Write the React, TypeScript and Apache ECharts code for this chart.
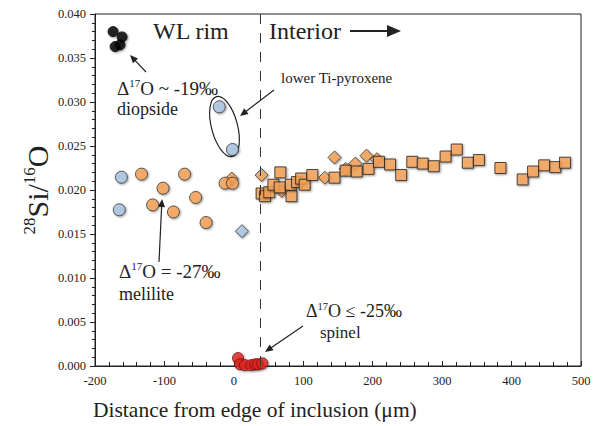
import React, { useEffect, useRef } from "react";
import * as echarts from "echarts";

const xTicks = [-200, -100, 0, 100, 200, 300, 400, 500];
const yTicks = [0, 0.005, 0.01, 0.015, 0.02, 0.025, 0.03, 0.035, 0.04];
const boundaryX = 38;

const diopside = [
  [-174, 0.038], [-161, 0.0374], [-171, 0.0363], [-164, 0.0365],
];
const pyroxene = [
  [-162, 0.02145], [-165, 0.01775], [-21, 0.02945], [-2, 0.0246],
];
const blueDiamond = [[11.6, 0.01532]];
const melilite = [
  [-133, 0.0218], [-102, 0.0202], [-117, 0.0183], [-87, 0.0175], [-71, 0.0218],
  [-55, 0.01915], [-40, 0.0163], [-12.6, 0.02077], [-2, 0.02077],
];
const orangeDiamonds = [
  [-3, 0.0213], [40, 0.0217], [69, 0.0199], [131, 0.0214], [145, 0.0237],
  [161, 0.0224], [175, 0.023], [191, 0.0239], [206, 0.0235],
];
const orangeSquares = [
  [40, 0.0196], [45, 0.0193], [51, 0.01975], [57, 0.0206], [66, 0.0203], [67, 0.022],
  [83, 0.0193], [82, 0.0206], [91, 0.0209], [97, 0.0213], [102, 0.0206], [113, 0.0217],
  [145, 0.0214], [161, 0.0222], [177, 0.0221], [194, 0.0224], [209, 0.0232], [225, 0.0229],
  [241, 0.0217], [257, 0.0232], [272, 0.023], [288, 0.0227], [305, 0.0238], [321, 0.0246],
  [337, 0.0231], [353, 0.0234], [384, 0.0225], [416, 0.0212], [431, 0.0221], [447, 0.0228],
  [463, 0.0226], [477, 0.0231],
];
const spinel = [
  [6, 0.0009], [9, 0.0002], [16, 0.0001], [25, 0.0001], [31, 0.0002], [35, 0.0002], [41, 0.0003],
];

const FONT = "'Liberation Serif', 'Times New Roman', serif";
const ORANGE = "#F7A255";
const BLUE = "#A9C5E3";
const RED = "#E52420";

function arrow(x1: number, y1: number, x2: number, y2: number, w = 1.2, head = 8, hw = 3.5) {
  const dx = x2 - x1, dy = y2 - y1;
  const L = Math.sqrt(dx * dx + dy * dy);
  const ux = dx / L, uy = dy / L;
  const bx = x2 - ux * head, by = y2 - uy * head;
  const px = -uy, py = ux;
  return [
    { type: "line", shape: { x1, y1, x2: bx + ux * 1, y2: by + uy * 1 }, style: { stroke: "#222", lineWidth: w }, silent: true },
    {
      type: "polygon",
      shape: { points: [[x2, y2], [bx + px * hw, by + py * hw], [bx - px * hw, by - py * hw]] },
      style: { fill: "#222" },
      silent: true,
    },
  ];
}

const richBase = (size: number, sup: number) => ({
  n: { fontSize: size, fontFamily: FONT, fill: "#222", lineHeight: size + 2 },
  s: { fontSize: sup, fontFamily: FONT, fill: "#222", verticalAlign: "top", lineHeight: sup },
});

function txt(x: number, y: number, text: string, size = 16, extra: any = {}) {
  return {
    type: "text",
    x,
    y,
    silent: true,
    style: { text, fontFamily: FONT, fontSize: size, fill: "#222", verticalAlign: "middle", ...extra },
  };
}

export default function App() {
  const ref = useRef<HTMLDivElement>(null);
  useEffect(() => {
    const chart = echarts.init(ref.current!, undefined, { renderer: "svg" });
    const shadow = {
      shadowBlur: 2,
      shadowColor: "rgba(0,0,0,0.45)",
      shadowOffsetX: 1,
      shadowOffsetY: 1,
    };
    const scatter = (data: number[][], symbol: string, size: number, color: string, border = "#333", z = 2) => ({
      type: "scatter",
      data,
      symbol,
      symbolSize: size,
      z,
      itemStyle: { color, borderColor: border, borderWidth: 1, ...shadow },
    });
    const option: any = {
      animation: false,
      grid: {
        left: 95, right: 17, top: 14, bottom: 60, show: true,
        borderColor: "#222", borderWidth: 1, backgroundColor: "transparent",
      },
      xAxis: {
        type: "value",
        min: xTicks[0],
        max: xTicks[xTicks.length - 1],
        interval: 100,
        splitLine: { show: false },
        axisLine: { onZero: false, lineStyle: { color: "#222" } },
        axisTick: { inside: true, length: 5, lineStyle: { color: "#222" } },
        minorTick: { show: true, splitNumber: 5, length: 4, lineStyle: { color: "#222" } },
        axisLabel: { fontFamily: FONT, fontSize: 12.5, color: "#222", margin: 8 },
      },
      yAxis: {
        type: "value",
        min: yTicks[0],
        max: yTicks[yTicks.length - 1],
        interval: 0.005,
        splitLine: { show: false },
        axisLine: { onZero: false, lineStyle: { color: "#222" } },
        axisTick: { inside: false, length: 5, lineStyle: { color: "#222" } },
        minorTick: { show: true, splitNumber: 5, length: 3, lineStyle: { color: "#222" } },
        axisLabel: {
          fontFamily: FONT, fontSize: 12.5, color: "#222", margin: 9,
          formatter: (v: number) => v.toFixed(3),
        },
      },
      series: [
        {
          ...scatter(diopside, "circle", 10, "#000", "#000"),
          markLine: {
            silent: true,
            symbol: "none",
            label: { show: false },
            lineStyle: { color: "#333", type: [10, 9], width: 1 },
            data: [{ xAxis: boundaryX }],
          },
        },
        scatter(pyroxene, "circle", 12, BLUE),
        scatter(blueDiamond, "diamond", 13, BLUE),
        scatter(melilite, "circle", 12, ORANGE, "#333", 3),
        scatter(orangeDiamonds, "diamond", 13, ORANGE),
        scatter(orangeSquares, "rect", 11, ORANGE, "#222", 3),
        scatter(spinel, "circle", 11, RED, "#7a1010", 4),
      ],
      graphic: [
        txt(153, 31, "WL rim", 24),
        txt(269, 31, "Interior", 24),
        ...arrow(350, 31, 401, 31, 2, 14, 6),
        {
          type: "text", x: 117, y: 88, silent: true,
          style: { text: "{n|Δ}{s|17}{n|O ~ -19‰}", rich: richBase(19, 11), verticalAlign: "middle" },
        },
        txt(117, 109, "diopside", 18),
        ...arrow(146, 72, 130, 55),
        txt(281, 78, "lower Ti-pyroxene", 15),
        ...arrow(274, 90, 240, 116),
        {
          type: "ellipse", x: 224.5, y: 126.5, rotation: 0.26, silent: true,
          shape: { cx: 0, cy: 0, rx: 13, ry: 31 },
          style: { fill: "none", stroke: "#222", lineWidth: 1.2 },
        },
        {
          type: "text", x: 119, y: 271, silent: true,
          style: { text: "{n|Δ}{s|17}{n|O = -27‰}", rich: richBase(19, 11), verticalAlign: "middle" },
        },
        txt(119, 294, "melilite", 18),
        ...arrow(159, 262, 162, 199),
        {
          type: "text", x: 306, y: 311, silent: true,
          style: { text: "{n|Δ}{s|17}{n|O ≤ -25‰}", rich: richBase(18, 10.5), verticalAlign: "middle" },
        },
        txt(320, 332, "spinel", 17),
        ...arrow(303, 326, 265, 352),
        {
          type: "text", x: 37, y: 190, rotation: Math.PI / 2, silent: true,
          style: {
            text: "{s|28}{n|Si/}{s|16}{n|O}",
            rich: richBase(30, 17),
            align: "center", verticalAlign: "middle",
          },
        },
        txt(93, 410, "Distance from edge of inclusion (μm)", 21.5),
      ],
    };
    chart.setOption(option);
    return () => chart.dispose();
  }, []);
  return (
    <div
      ref={ref}
      style={{ position: "fixed", left: 0, top: 0, width: 598, height: 426, background: "#fff" }}
    />
  );
}
